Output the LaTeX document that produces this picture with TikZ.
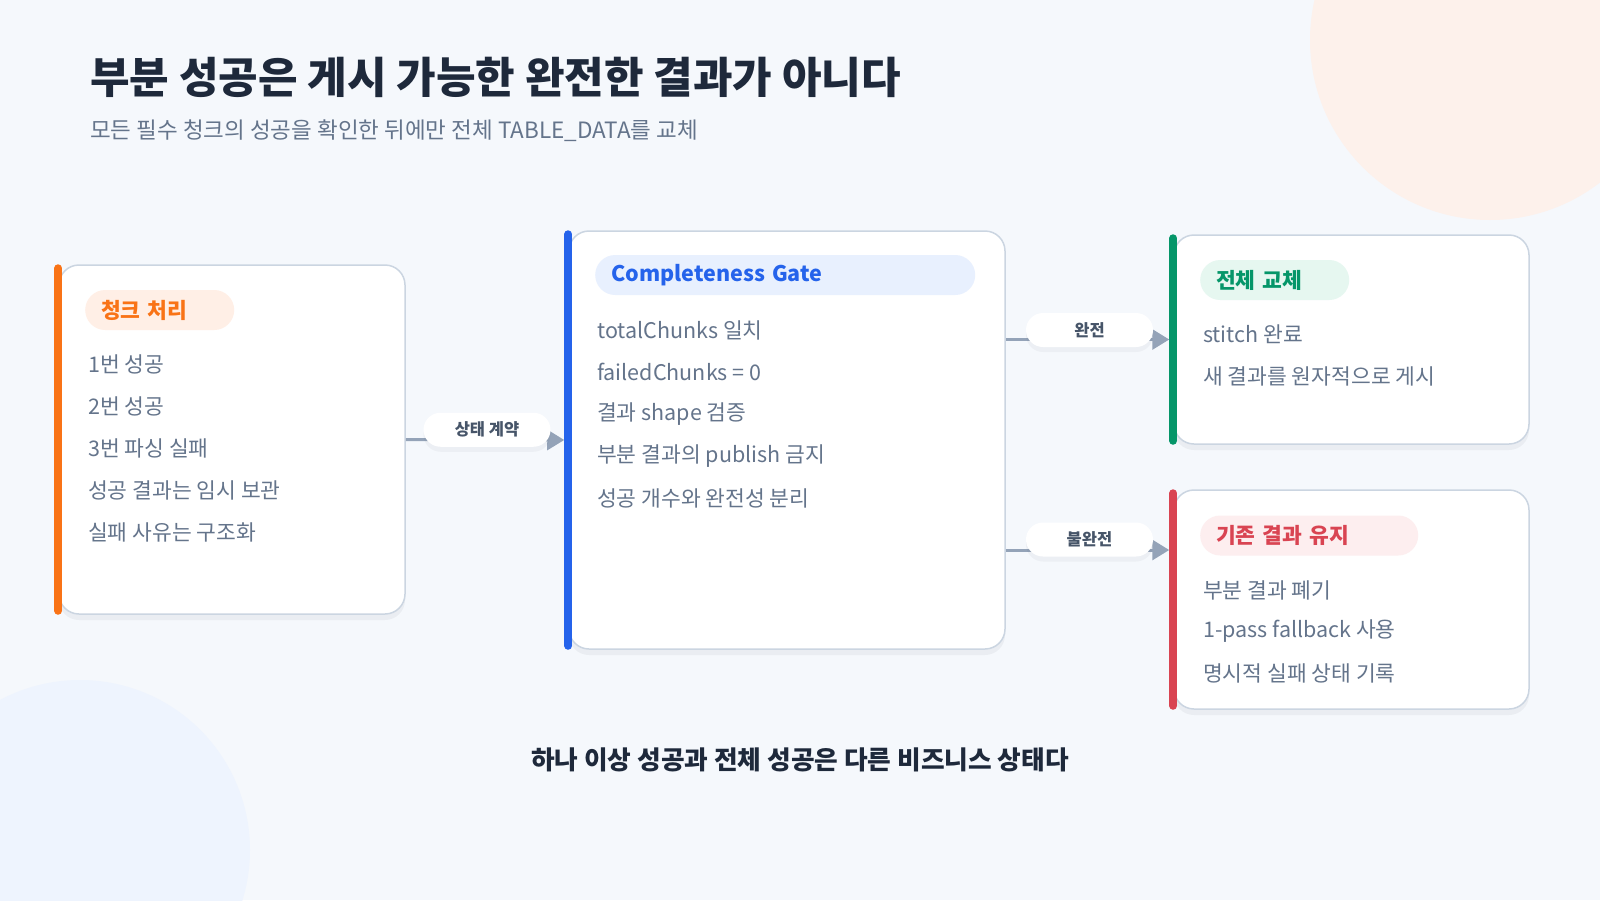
\documentclass[tikz,border=0pt]{standalone}
\usepackage{xcolor}
\usepackage{fontspec}
\usepackage{tikz}
\usetikzlibrary{arrows.meta, positioning, shadows}
\setmainfont{Noto Sans CJK KR}

\definecolor{canvas}{HTML}{F5F8FC}
\definecolor{peach}{HTML}{FDF1EB}
\definecolor{haze}{HTML}{EEF4FE}
\definecolor{cardline}{HTML}{CBD5E1}
\definecolor{ink}{HTML}{1E293B}
\definecolor{muted}{HTML}{64748B}
\definecolor{tagtext}{HTML}{475569}
\definecolor{flowgray}{HTML}{94A3B8}
\definecolor{orangeA}{HTML}{F97316}
\definecolor{orangeB}{HTML}{FFEFE6}
\definecolor{blueA}{HTML}{2563EB}
\definecolor{blueB}{HTML}{E8F0FE}
\definecolor{greenA}{HTML}{059669}
\definecolor{greenB}{HTML}{E6F7F0}
\definecolor{redA}{HTML}{D94452}
\definecolor{redB}{HTML}{FDEEEF}

\tikzstyle{card}=[draw=cardline, line width=1.5pt, fill=white, rounded corners=20pt, inner sep=0pt, drop shadow={shadow xshift=0pt, shadow yshift=-6pt, opacity=0.05, fill=ink}]
\tikzstyle{stripe}=[line width=8pt, line cap=round]
\tikzstyle{badge}=[anchor=west, rounded corners=20pt, minimum height=40pt, inner xsep=16pt, inner ysep=0pt, align=left, font=\fontsize{21.5}{25}\selectfont\bfseries]
\tikzstyle{entry}=[anchor=west, inner sep=0pt, text=muted, font=\fontsize{21.5}{25}\selectfont]
\tikzstyle{tag}=[fill=white, rounded corners=17pt, minimum width=127pt, minimum height=34pt, inner sep=0pt, text=tagtext, font=\fontsize{16.5}{19}\selectfont\bfseries, drop shadow={shadow xshift=0pt, shadow yshift=-5pt, opacity=0.04, fill=ink}]
\tikzstyle{flow}=[draw=flowgray, line width=3pt, shorten >=4pt, -{Triangle[length=17pt, width=20pt]}]

\begin{document}
\begin{tikzpicture}[x=1pt, y=-1pt]
	\useasboundingbox (0,0) rectangle (1600,900);
	\fill[canvas] (0,0) rectangle (1600,900);
	\begin{scope}
		\clip (0,0) rectangle (1600,900);
		\fill[peach] (1490,40) circle (180pt);
		\fill[haze] (80,850) circle (170pt);
	\end{scope}

	\node[anchor=west, inner sep=0pt, text=ink, font=\fontsize{43}{50}\selectfont\bfseries] (title) at (90,77) {부분 성공은 게시 가능한 완전한 결과가 아니다};
	\node[anchor=west, inner sep=0pt, text=muted, font=\fontsize{22.5}{27}\selectfont] (subtitle) at (90,131) {모든 필수 청크의 성공을 확인한 뒤에만 전체 TABLE\_DATA를 교체};

	% cards
	\node[card, minimum width=346pt, minimum height=349pt] (chunk) at (232,439.5) {};
	\node[card, minimum width=436pt, minimum height=418pt] (gate) at (787,440) {};
	\node[card, minimum width=355pt, minimum height=209pt] (swap) at (1351.5,339.5) {};
	\node[card, minimum width=355pt, minimum height=219pt] (keep) at (1351.5,599.5) {};
	\foreach \c/\col in {chunk/orangeA, gate/blueA, swap/greenA, keep/redA}
		\draw[stripe, \col] ([yshift=-4pt]\c.north west) -- ([yshift=4pt]\c.south west);

	% headers
	\node[badge, fill=orangeB, text=orangeA, text width=117pt] (chunkhead) at (85,310) {청크 처리};
	\node[badge, fill=blueB, text=blueA, text width=348pt] (gatehead) at (595,275) {Completeness Gate};
	\node[badge, fill=greenB, text=greenA, text width=117pt] (swaphead) at (1200,280) {전체 교체};
	\node[badge, fill=redB, text=redA, text width=186pt] (keephead) at (1200,535.5) {기존 결과 유지};

	% entries
	\foreach \t [count=\n from 0] in {1번 성공, 2번 성공, 3번 파싱 실패, 성공 결과는 임시 보관, 실패 사유는 구조화}
		\node[entry] (chunk\n) at (88, {364+42*\n}) {\t};
	\foreach \t [count=\n from 0] in {totalChunks 일치, failedChunks = 0, 결과 shape 검증, 부분 결과의 publish 금지, 성공 개수와 완전성 분리}
		\node[entry] (gate\n) at (597, {330+42*\n}) {\t};
	\foreach \t [count=\n from 0] in {stitch 완료, 새 결과를 원자적으로 게시}
		\node[entry] (swap\n) at (1203, {334+42.5*\n}) {\t};
	\foreach \t [count=\n from 0] in {부분 결과 폐기, 1-pass fallback 사용, 명시적 실패 상태 기록}
		\node[entry] (keep\n) at (1203, {590+41.5*\n}) {\t};

	% flows
	\coordinate (keepin) at ([yshift=49.5pt]keep.west);
	\draw[flow] (chunk.east) -- node[tag, yshift=10pt] {상태 계약} (gate.west);
	\draw[flow] (gate.east |- swap.west) -- node[tag, yshift=9.5pt] {완전} (swap.west);
	\draw[flow] (gate.east |- keepin) -- node[tag, yshift=10.5pt] {불완전} (keepin);

	\node[text=ink, inner sep=0pt, font=\fontsize{25.7}{30}\selectfont\bfseries] (motto) at (800,760) {하나 이상 성공과 전체 성공은 다른 비즈니스 상태다};
\end{tikzpicture}
\end{document}
